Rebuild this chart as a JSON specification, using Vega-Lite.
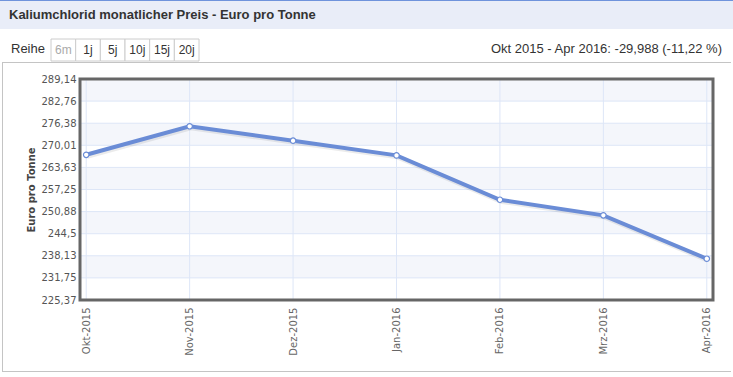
{
  "$schema": "https://vega.github.io/schema/vega-lite/v6.json",
  "padding": 0,
  "background": "white",
  "spacing": 0,
  "config": {
    "view": {"stroke": null},
    "axis": {"labelOverlap": false},
    "title": {"font": "Liberation Sans", "color": "#333333", "frame": "group"}
  },
  "datasets": {
    "prices": [
      {"month": "Okt-2015", "price": 267.27},
      {"month": "Nov-2015", "price": 275.5},
      {"month": "Dez-2015", "price": 271.35},
      {"month": "Jan-2016", "price": 267.1},
      {"month": "Feb-2016", "price": 254.3},
      {"month": "Mrz-2016", "price": 249.8},
      {"month": "Apr-2016", "price": 237.28}
    ],
    "bands": [
      {"lo": 282.76, "hi": 289.14},
      {"lo": 270.01, "hi": 276.38},
      {"lo": 257.25, "hi": 263.63},
      {"lo": 244.5, "hi": 250.88},
      {"lo": 231.75, "hi": 238.13}
    ],
    "ticks": [
      {"v": 225.37}, {"v": 231.75}, {"v": 238.13}, {"v": 244.5}, {"v": 250.88}, {"v": 257.25},
      {"v": 263.63}, {"v": 270.01}, {"v": 276.38}, {"v": 282.76}, {"v": 289.14}
    ],
    "buttons": [
      {"label": "6m"}, {"label": "1j"}, {"label": "5j"}, {"label": "10j"}, {"label": "15j"}, {"label": "20j"}
    ],
    "frame": [{"f": 1}]
  },
  "vconcat": [
    {"width": 733, "height": 1, "data": {"values": []}, "mark": "point", "view": {"fill": "#6f93dc", "stroke": null}},
    {
      "width": 733, "height": 28, "data": {"values": []}, "mark": "point",
      "view": {"fill": "#e9edf8", "stroke": null},
      "title": {"text": "Kaliumchlorid monatlicher Preis - Euro pro Tonne", "anchor": "start", "orient": "top", "baseline": "alphabetic", "offset": -31, "dx": 9, "fontSize": 13, "fontWeight": "bold", "color": "#333333"}
    },
    {"width": 733, "height": 9, "data": {"values": []}, "mark": "point"},
    {
      "spacing": 0,
      "hconcat": [
        {
          "width": 50, "height": 23, "data": {"values": []}, "mark": "point",
          "title": {"text": "Reihe", "anchor": "start", "orient": "top", "baseline": "alphabetic", "offset": -27, "dx": 11, "fontSize": 13, "fontWeight": "normal", "color": "#333333"}
        },
        {
          "width": 148, "height": 22,
          "data": {"name": "buttons"},
          "layer": [
            {"mark": {"type": "rect", "fill": "#ffffff", "stroke": "#cccccc", "strokeWidth": 1},
             "encoding": {"x": {"field": "label", "type": "nominal", "sort": null, "scale": {"paddingInner": 0, "paddingOuter": 0}, "axis": null}}},
            {"mark": {"type": "text", "font": "Liberation Sans", "fontSize": 12, "baseline": "middle"},
             "encoding": {
               "x": {"field": "label", "type": "nominal", "sort": null},
               "text": {"field": "label"},
               "color": {"condition": {"test": "datum.label === '6m'", "value": "#aaaaaa"}, "value": "#333333"}
             }}
          ]
        },
        {
          "width": 534, "height": 23, "data": {"values": []}, "mark": "point",
          "title": {"text": "Okt 2015 - Apr 2016: -29,988 (-11,22 %)", "anchor": "end", "orient": "top", "baseline": "alphabetic", "offset": -27, "dx": -12, "fontSize": 13, "fontWeight": "normal", "color": "#333333"}
        }
      ]
    },
    {
      "spacing": 0,
      "hconcat": [
        {"width": 2, "height": 310, "data": {"values": []}, "mark": "point"},
        {
          "spacing": 0,
          "vconcat": [
            {"width": 729, "height": 1, "data": {"values": []}, "mark": "point", "view": {"fill": "#c4c4c4", "stroke": null}},
            {
              "spacing": 0,
              "hconcat": [
                {"width": 1, "height": 308, "data": {"values": []}, "mark": "point", "view": {"fill": "#c4c4c4", "stroke": null}},
                {"width": 23, "height": 308, "data": {"values": []}, "mark": "point"},
                {
                  "spacing": 0,
                  "vconcat": [
                    {"width": 633, "height": 10.5, "data": {"values": []}, "mark": "point"},
                    {
                      "width": 633, "height": 221,
                      "view": {"stroke": null, "fill": "#ffffff"},
                      "layer": [
                        {
                          "data": {"name": "bands"},
                          "mark": {"type": "rect", "color": "#f4f6fb"},
                          "encoding": {
                            "y": {"field": "lo", "type": "quantitative",
                                  "scale": {"domain": [225.37, 289.14], "nice": false, "zero": false}},
                            "y2": {"field": "hi"}
                          }
                        },
                        {
                          "data": {"name": "ticks"},
                          "mark": {"type": "rule", "color": "#dde6f7", "strokeWidth": 1},
                          "encoding": {"y": {"field": "v", "type": "quantitative",
                            "axis": {
                              "values": [225.37, 231.75, 238.13, 244.5, 250.88, 257.25, 263.63, 270.01, 276.38, 282.76, 289.14],
                              "tickCount": 12,
                              "labelExpr": "replace(format(datum.value, '.2~f'), '.', ',')",
                              "labelOverlap": false,
                              "labelFont": "DejaVu Sans", "labelFontSize": 10, "labelColor": "#555555",
                              "ticks": false, "domain": false, "grid": false, "labelPadding": 4,
                              "title": "Euro pro Tonne", "titleFont": "DejaVu Sans", "titleFontSize": 10,
                              "titleFontWeight": "bold", "titleColor": "#444444", "titlePadding": 5
                            }}}
                        },
                        {
                          "data": {"name": "prices"},
                          "mark": {"type": "rule", "color": "#dde6f7", "strokeWidth": 1},
                          "encoding": {
                            "x": {"field": "month", "type": "ordinal", "sort": null,
                                  "scale": {"type": "point", "padding": 0.06},
                                  "axis": {"labelAngle": -90, "labelFont": "DejaVu Sans", "labelFontSize": 10, "labelColor": "#666666",
                                           "labelOverlap": false,
                                           "ticks": false, "domain": false, "grid": false, "labelPadding": 7, "title": null}}
                          }
                        },
                        {
                          "data": {"name": "prices"},
                          "mark": {"type": "line", "color": "#000000", "opacity": 0.08, "strokeWidth": 5, "xOffset": 1, "yOffset": 1.5},
                          "encoding": {
                            "x": {"field": "month", "type": "ordinal", "sort": null},
                            "y": {"field": "price", "type": "quantitative"}
                          }
                        },
                        {
                          "data": {"name": "prices"},
                          "mark": {"type": "line", "color": "#6a8cd6", "strokeWidth": 4},
                          "encoding": {
                            "x": {"field": "month", "type": "ordinal", "sort": null},
                            "y": {"field": "price", "type": "quantitative"}
                          }
                        },
                        {
                          "data": {"name": "prices"},
                          "mark": {"type": "point", "filled": true, "fill": "#ffffff", "stroke": "#6a8cd6", "strokeWidth": 1.2, "size": 30, "opacity": 1},
                          "encoding": {
                            "x": {"field": "month", "type": "ordinal", "sort": null},
                            "y": {"field": "price", "type": "quantitative"}
                          }
                        },
                        {
                          "data": {"name": "frame"},
                          "mark": {"type": "rect", "fill": null, "fillOpacity": 0, "stroke": "#666666", "strokeWidth": 3},
                          "encoding": {}
                        }
                      ]
                    }
                  ]
                },
                {"width": 15.5, "height": 308, "data": {"values": []}, "mark": "point"},
                {"width": 1, "height": 308, "data": {"values": []}, "mark": "point", "view": {"fill": "#c4c4c4", "stroke": null}}
              ]
            },
            {"width": 729, "height": 1, "data": {"values": []}, "mark": "point", "view": {"fill": "#c4c4c4", "stroke": null}}
          ]
        }
      ]
    }
  ]
}
